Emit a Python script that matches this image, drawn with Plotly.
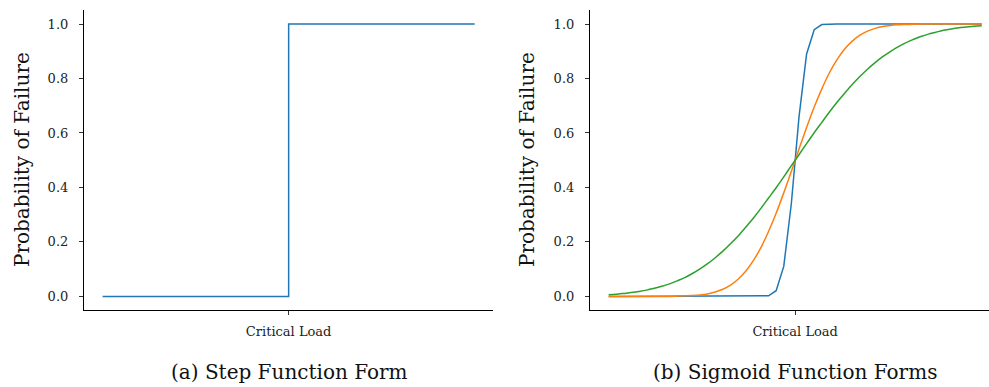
import plotly.graph_objects as go

# ---- data ----
step_x = [-5.0, 0.0, 5.0]
step_y = [0.0, 1.0, 1.0]

load_x = [-5.0, -4.7959, -4.5918, -4.3878, -4.1837, -3.9796, -3.7755, -3.5714, -3.3673, -3.1633,
          -2.9592, -2.7551, -2.5510, -2.3469, -2.1429, -1.9388, -1.7347, -1.5306, -1.3265, -1.1224,
          -0.9184, -0.7143, -0.5102, -0.3061, -0.1020, 0.1020, 0.3061, 0.5102, 0.7143, 0.9184,
          1.1224, 1.3265, 1.5306, 1.7347, 1.9388, 2.1429, 2.3469, 2.5510, 2.7551, 2.9592,
          3.1633, 3.3673, 3.5714, 3.7755, 3.9796, 4.1837, 4.3878, 4.5918, 4.7959, 5.0]

steep = [0.0] * 21 + [0.002, 0.021, 0.110, 0.342, 0.658, 0.890, 0.979, 0.998] + [1.0] * 21

medium = [0.000, 0.000, 0.000, 0.000, 0.000, 0.000, 0.000, 0.000, 0.000, 0.001,
          0.002, 0.003, 0.005, 0.009, 0.016, 0.026, 0.041, 0.063, 0.092, 0.131,
          0.179, 0.238, 0.305, 0.380, 0.459, 0.541, 0.620, 0.695, 0.762, 0.821,
          0.869, 0.908, 0.937, 0.959, 0.974, 0.984, 0.991, 0.995, 0.997, 0.998,
          0.999, 1.000, 1.000, 1.000, 1.000, 1.000, 1.000, 1.000, 1.000, 1.000]

gentle = [0.006, 0.008, 0.011, 0.014, 0.018, 0.023, 0.030, 0.037, 0.046, 0.057,
          0.069, 0.084, 0.101, 0.120, 0.142, 0.166, 0.193, 0.222, 0.254, 0.287,
          0.323, 0.361, 0.399, 0.439, 0.480, 0.520, 0.561, 0.601, 0.639, 0.677,
          0.713, 0.746, 0.778, 0.807, 0.834, 0.858, 0.880, 0.899, 0.916, 0.931,
          0.943, 0.954, 0.963, 0.970, 0.977, 0.982, 0.986, 0.989, 0.992, 0.994]

x_tick_vals = [0.0]
x_tick_text = ["Critical Load"]
y_tick_vals = [0.0, 0.2, 0.4, 0.6, 0.8, 1.0]
y_tick_text = ["0.0", "0.2", "0.4", "0.6", "0.8", "1.0"]
y_label = "Probability of Failure"
subtitles = ["(a) Step Function Form", "(b) Sigmoid Function Forms"]

# ---- figure ----
W, H = 989, 387
FONT = "DejaVu Serif"
BLUE, ORANGE, GREEN = "#1f77b4", "#ff7f0e", "#2ca02c"

fig = go.Figure()
fig.add_trace(go.Scatter(x=step_x, y=step_y, mode="lines", line=dict(color=BLUE, width=1.5, shape="hv"),
                         xaxis="x", yaxis="y", showlegend=False))
fig.add_trace(go.Scatter(x=load_x, y=steep, mode="lines", line=dict(color=BLUE, width=1.5),
                         xaxis="x2", yaxis="y2", showlegend=False))
for ys, c in [(medium, ORANGE), (gentle, GREEN)]:
    fig.add_trace(go.Scatter(x=load_x, y=ys, mode="lines",
                             line=dict(color=c, width=1.5, shape="spline", smoothing=0.8),
                             xaxis="x2", yaxis="y2", showlegend=False))

def px(v):
    return v / W

def py(v):
    return (H - v) / H

ydom = [py(310), py(10.4)]
common_x = dict(showgrid=False, zeroline=False, showline=True, linecolor="#000", linewidth=1.2,
                ticks="outside", ticklen=4, tickwidth=1, tickcolor="#333",
                tickvals=x_tick_vals, ticktext=x_tick_text,
                tickfont=dict(family=FONT, size=13, color="#222"), ticklabelstandoff=5)
common_y = dict(showgrid=False, zeroline=False, showline=True, linecolor="#000", linewidth=1.2,
                ticks="outside", ticklen=4, tickwidth=1, tickcolor="#333",
                tickvals=y_tick_vals, ticktext=y_tick_text, range=[-0.05, 1.05], domain=ydom,
                tickfont=dict(family=FONT, size=13, color="#222"), ticklabelstandoff=8)

fig.update_layout(
    width=W, height=H, margin=dict(l=0, r=0, t=0, b=0),
    paper_bgcolor="white", plot_bgcolor="white",
    xaxis=dict(domain=[px(84), px(493.3)], range=[-5.5, 5.5], anchor="y", **common_x),
    yaxis=dict(anchor="x", **common_y),
    xaxis2=dict(domain=[px(590), 1.0], range=[-5.5, 5.196], anchor="y2", **common_x),
    yaxis2=dict(anchor="x2", **common_y),
)

annots = []
for cx, txt in [(289, subtitles[0]), (795, subtitles[1])]:
    annots.append(dict(x=px(cx), y=py(372), xref="paper", yref="paper", text=txt, showarrow=False,
                       xanchor="center", yanchor="middle", font=dict(family=FONT, size=20, color="#111")))
for cx in [22, 527]:
    annots.append(dict(x=px(cx), y=py(160), xref="paper", yref="paper", text=y_label, showarrow=False,
                       textangle=-90, xanchor="center", yanchor="middle",
                       font=dict(family=FONT, size=20, color="#111")))
fig.update_layout(annotations=annots)

fig.write_html("out.html")
